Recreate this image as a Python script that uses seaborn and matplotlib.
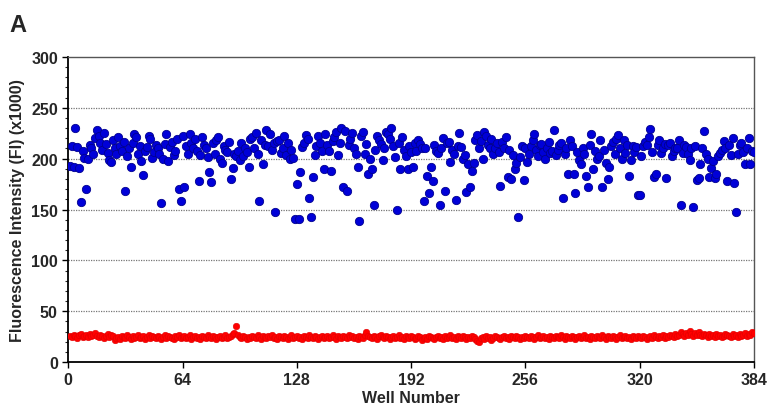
import matplotlib
matplotlib.use("Agg")
import matplotlib.pyplot as plt
from matplotlib.ticker import MultipleLocator
import seaborn as sns
import pandas as pd
import numpy as np

# blue series (FI x1000), wells 1..384 (16 wells per row)
blue_fi = [
    193, 212, 192, 230, 211, 191, 157, 208, 201, 170, 200, 213, 210, 205, 220, 228,
    222, 215, 209, 225, 214, 206, 199, 197, 218, 210, 205, 221, 212, 208, 216, 168,
    203, 210, 192, 215, 224, 221, 205, 212, 198, 184, 208, 211, 222, 219, 201, 207,
    213, 210, 205, 156, 200, 214, 224, 198, 211, 216, 204, 208, 219, 170, 158, 222,
    172, 212, 205, 224, 215, 210, 219, 208, 178, 204, 221, 213, 210, 202, 187, 177,
    215, 205, 218, 221, 200, 196, 212, 209, 207, 216, 180, 191, 205, 203, 208, 199,
    215, 203, 210, 207, 192, 219, 221, 210, 225, 205, 158, 218, 195, 213, 228, 212,
    224, 209, 215, 148, 217, 218, 206, 210, 222, 204, 215, 200, 209, 201, 141, 175,
    141, 187, 211, 215, 223, 219, 161, 143, 182, 204, 212, 222, 215, 208, 190, 224,
    213, 208, 188, 217, 221, 226, 204, 215, 230, 172, 227, 168, 213, 219, 225, 210,
    205, 192, 139, 222, 226, 205, 214, 185, 200, 190, 154, 209, 222, 218, 214, 199,
    210, 226, 224, 219, 230, 212, 202, 150, 215, 190, 221, 209, 203, 190, 212, 207,
    192, 215, 208, 218, 214, 210, 158, 210, 183, 166, 192, 178, 213, 208, 206, 154,
    210, 220, 168, 215, 216, 197, 209, 205, 159, 212, 225, 211, 200, 204, 167, 195,
    172, 188, 196, 218, 223, 210, 217, 200, 226, 222, 213, 210, 219, 205, 210, 215,
    207, 173, 216, 210, 221, 182, 209, 180, 204, 190, 196, 143, 202, 212, 179, 210,
    197, 205, 212, 218, 224, 209, 203, 213, 214, 207, 200, 210, 216, 206, 208, 228,
    204, 209, 213, 215, 161, 205, 210, 185, 218, 212, 185, 166, 207, 199, 195, 210,
    205, 183, 172, 213, 224, 190, 208, 200, 203, 218, 172, 209, 196, 180, 192, 212,
    216, 205, 219, 223, 210, 200, 218, 206, 213, 183, 199, 212, 207, 211, 164, 164,
    203, 212, 216, 213, 221, 229, 207, 182, 185, 213, 218, 206, 210, 214, 181, 213,
    215, 203, 208, 210, 210, 218, 154, 206, 213, 211, 205, 199, 210, 152, 212, 179,
    181, 195, 210, 227, 205, 200, 182, 191, 198, 181, 185, 203, 206, 209, 217, 210,
    178, 213, 204, 220, 176, 148, 205, 213, 215, 207, 195, 210, 220, 195, 208, 207,
]

# red series (FI x1000), wells 1..384
red_fi = [
    26, 25, 27, 26, 24, 27, 28, 25, 26, 27, 25, 28, 26, 27, 29, 26,
    25, 27, 26, 24, 26, 28, 25, 27, 26, 22, 24, 25, 23, 26, 25, 24,
    27, 25, 23, 26, 24, 25, 27, 24, 25, 26, 23, 25, 27, 24, 26, 25,
    24, 26, 25, 23, 25, 27, 24, 26, 25, 24, 23, 26, 25, 27, 24, 25,
    26, 24, 25, 27, 23, 25, 26, 24, 25, 23, 26, 25, 24, 27, 25, 24,
    26, 25, 23, 25, 26, 24, 25, 27, 24, 25, 26, 28, 29, 35, 27, 25,
    24, 26, 25, 23, 25, 24, 26, 25, 24, 27, 25, 23, 26, 25, 24, 26,
    25, 27, 24, 25, 23, 26, 25, 24, 26, 25, 23, 25, 27, 24, 25, 26,
    24, 25, 23, 26, 25, 24, 27, 25, 24, 26, 25, 23, 25, 26, 24, 25,
    26, 24, 25, 27, 25, 23, 26, 25, 24, 26, 25, 24, 27, 25, 26, 24,
    25, 23, 26, 25, 24, 27, 30, 26, 25, 24, 26, 25, 23, 26, 27, 25,
    24, 26, 25, 23, 25, 26, 24, 25, 27, 24, 25, 23, 26, 25, 24, 26,
    25, 23, 24, 26, 25, 22, 24, 25, 23, 26, 25, 24, 23, 25, 26, 24,
    25, 23, 26, 24, 25, 27, 24, 25, 23, 26, 25, 24, 26, 25, 23, 25,
    24, 26, 25, 23, 21, 20, 24, 25, 23, 26, 24, 25, 22, 24, 26, 25,
    24, 23, 25, 26, 24, 25, 23, 26, 25, 24, 26, 25, 23, 25, 24, 26,
    25, 24, 26, 25, 23, 25, 27, 24, 25, 26, 24, 25, 23, 26, 25, 24,
    26, 25, 24, 27, 25, 23, 26, 25, 24, 26, 25, 23, 25, 26, 24, 25,
    27, 24, 25, 23, 26, 25, 24, 26, 25, 24, 27, 25, 23, 26, 25, 24,
    26, 25, 23, 25, 27, 24, 25, 26, 24, 25, 23, 26, 25, 24, 26, 25,
    24, 26, 25, 23, 25, 26, 24, 27, 25, 24, 26, 25, 27, 24, 26, 25,
    27, 26, 25, 28, 26, 27, 30, 28, 26, 29, 27, 31, 28, 26, 29, 27,
    30, 27, 26, 28, 27, 25, 28, 26, 27, 25, 28, 26, 27, 25, 26, 28,
    27, 26, 25, 28, 26, 27, 25, 28, 26, 27, 29, 26, 28, 27, 30, 29,
]

wells = np.arange(1, len(blue_fi) + 1)
df = pd.DataFrame({"well": np.concatenate([wells, wells]),
                   "fi": blue_fi + red_fi,
                   "series": ["blue"] * len(blue_fi) + ["red"] * len(red_fi)})

sns.set_style("white")
plt.rcParams["font.family"] = ["Liberation Sans", "DejaVu Sans"]
narrow = ["Liberation Sans Narrow", "Liberation Sans", "DejaVu Sans"]

fig = plt.figure(figsize=(7.67, 4.14), dpi=100)
ax = fig.add_axes([0.089, 0.123, 0.894, 0.737])

for y in [50, 100, 150, 200, 250]:
    ax.axhline(y, color="#777777", lw=0.9, ls=(0, (1, 1)), zorder=0)

sns.scatterplot(data=df[df.series == "blue"], x="well", y="fi", color="#0000d8",
                edgecolor="#000090", linewidth=0.6, s=36, ax=ax, zorder=3)
sns.scatterplot(data=df[df.series == "red"], x="well", y="fi", color="#ff0000",
                edgecolor="#e00000", linewidth=0.4, s=22, ax=ax, zorder=3)

ax.set_xlim(0, 384)
ax.set_ylim(0, 300)
ax.set_xticks([0, 64, 128, 192, 256, 320, 384])
ax.set_yticks([0, 50, 100, 150, 200, 250, 300])
ax.yaxis.set_minor_locator(MultipleLocator(10))
ax.tick_params(axis="both", which="major", direction="out", length=4, width=1,
               labelsize=11.5, color="black")
ax.tick_params(axis="y", which="minor", direction="out", length=2.5, width=0.8, left=True)
ax.tick_params(axis="x", which="major", bottom=True)
ax.tick_params(axis="y", which="major", left=True)
for lab in ax.get_xticklabels() + ax.get_yticklabels():
    lab.set_fontweight("bold")
    lab.set_family(narrow)

for side in ["left", "bottom"]:
    ax.spines[side].set_color("black")
    ax.spines[side].set_linewidth(1.3)
for side in ["top", "right"]:
    ax.spines[side].set_color("#555555")
    ax.spines[side].set_linewidth(1.0)

ax.set_xlabel("Well Number", fontsize=11.5, fontweight="bold", labelpad=2)
ax.set_ylabel("Fluorescence Intensity (FI) (x1000)", fontsize=11.5, fontweight="bold", labelpad=4)
fig.text(0.012, 0.965, "A", fontsize=17, fontweight="bold", va="top", ha="left")

fig.savefig("out.png", dpi=100)
